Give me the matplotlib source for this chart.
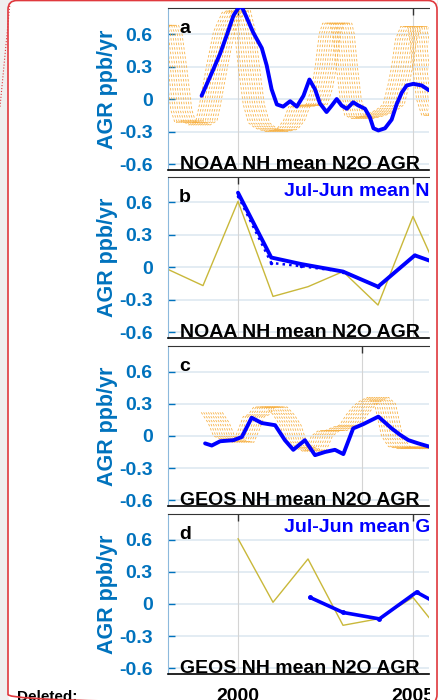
import numpy as np
import matplotlib.pyplot as plt
from matplotlib.patches import FancyBboxPatch, Rectangle

plt.rcParams['font.family'] = ['Liberation Sans', 'DejaVu Sans']
plt.rcParams['lines.solid_joinstyle'] = 'round'
plt.rcParams['lines.solid_capstyle'] = 'round'

W, H = 438, 700
TXT_BLUE = '#0072bd'
LINE_BLUE = '#0000ff'
ORANGE = '#f7ab35'
OLIVE = '#c9b83a'
RED = '#e0393e'

XMIN, XMAX = 1998.0, 2005.457
YMIN, YMAX = -0.655, 0.84
yticks = [-0.6, -0.3, 0.0, 0.3, 0.6]
ytick_labels = ['-0.6', '-0.3', '0', '0.3', '0.6']

# a: NOAA NH mean N2O growth rate (smoothed monthly)
noaa_yr = [1998.96, 1999.29, 1999.49, 1999.68, 1999.87, 2000.01, 2000.11, 2000.25,
           2000.44, 2000.68, 2000.82, 2000.96, 2001.11, 2001.29, 2001.49, 2001.68,
           2001.87, 2002.04, 2002.20, 2002.34, 2002.53, 2002.68, 2002.82, 2002.96,
           2003.11, 2003.29, 2003.44, 2003.63, 2003.77, 2003.87, 2004.01, 2004.20,
           2004.39, 2004.53, 2004.68, 2004.82, 2005.01, 2005.25, 2005.46]
noaa_agr = [0.03, 0.27, 0.42, 0.59, 0.77, 0.84, 0.85, 0.75,
            0.61, 0.47, 0.31, 0.09, -0.05, -0.07, -0.02, -0.07,
            0.03, 0.18, 0.09, -0.04, -0.12, -0.06, 0.00, -0.06,
            -0.09, -0.03, -0.06, -0.09, -0.17, -0.27, -0.29, -0.27,
            -0.19, -0.05, 0.06, 0.125, 0.14, 0.125, 0.08]

# a: model growth rate, central member of the monthly-lag ensemble
noaa_mod_yr = [1997.6, 1998.0, 1998.1, 1998.23, 1998.38, 1998.5, 1998.7, 1998.9,
               1999.1, 1999.2, 1999.4, 1999.6, 1999.85, 2000.05, 2000.2, 2000.31,
               2000.45, 2000.6, 2000.8, 2001.1, 2001.4, 2001.6, 2001.75, 2002.0,
               2002.25, 2002.4, 2002.51, 2002.62, 2002.72, 2002.95, 2003.02, 2003.11,
               2003.22, 2003.35, 2003.55, 2003.8, 2004.0, 2004.25, 2004.45, 2004.6,
               2004.69, 2004.8, 2004.95, 2005.15, 2005.22, 2005.29, 2005.4, 2005.55,
               2005.8]
noaa_mod_agr = [0.68, 0.68, 0.6, 0.3, -0.1, -0.22, -0.2, -0.24,
                -0.2, -0.05, 0.3, 0.62, 0.8, 0.82, 0.62, 0.3,
                -0.05, -0.22, -0.27, -0.3, -0.28, -0.2, -0.07, -0.06,
                -0.05, 0.1, 0.3, 0.6, 0.7, 0.7, 0.6, 0.3,
                0.0, -0.15, -0.18, -0.16, -0.14, -0.1, -0.05, 0.15,
                0.3, 0.55, 0.67, 0.67, 0.55, 0.3, 0.0, -0.15,
                -0.15]

# b: annual values
ann_yr = [1998.0, 1999.0, 2000.0, 2001.0, 2002.0, 2003.0, 2004.0, 2005.0, 2006.0]
noaa_ann_mod = [-0.02, -0.17, 0.61, -0.27, -0.18, -0.04, -0.35, 0.47, -0.25]
julj_yr = [2000.0, 2000.95, 2001.8, 2003.0, 2004.0, 2005.05, 2006.0]
noaa_julj = [0.69, 0.09, 0.03, -0.04, -0.18, 0.11, 0.0]
noaa_julj_alt = [0.66, 0.04, 0.01, -0.04, -0.18, 0.11, 0.0]

# c: GEOS NH mean N2O growth rate
geos_yr = [1999.06, 1999.25, 1999.49, 1999.87, 2000.11, 2000.39, 2000.68, 2001.06,
           2001.34, 2001.58, 2001.91, 2002.20, 2002.49, 2002.77, 2003.01, 2003.29,
           2003.58, 2004.01, 2004.39, 2004.63, 2004.87, 2005.15, 2005.46]
geos_agr = [-0.07, -0.09, -0.05, -0.04, -0.01, 0.17, 0.12, 0.10,
            -0.04, -0.13, -0.04, -0.18, -0.15, -0.13, -0.17, 0.07,
            0.11, 0.18, 0.07, 0.01, -0.04, -0.07, -0.10]
geos_mod_yr = [1999.25, 1999.45, 1999.6, 1999.8, 2000.0, 2000.15, 2000.3, 2000.45,
               2000.6, 2000.75, 2001.1, 2001.3, 2001.5, 2001.65, 2001.8, 2002.0,
               2002.2, 2002.4, 2002.6, 2002.8, 2003.0, 2003.2, 2003.4, 2003.6,
               2003.8, 2004.0, 2004.2, 2004.4, 2004.6, 2004.9, 2005.2, 2005.5,
               2005.8]
geos_mod_agr = [0.22, 0.12, 0.0, -0.03, -0.05, -0.06, 0.05, 0.18,
                0.2, 0.27, 0.27, 0.2, 0.1, -0.05, -0.1, -0.12,
                -0.15, 0.0, 0.05, 0.05, 0.08, 0.1, 0.2, 0.28,
                0.33, 0.36, 0.3, 0.0, -0.1, -0.12, -0.1, -0.12,
                -0.1]

# d: GEOS annual values
geos_ann_yr = [2000.0, 2001.0, 2002.0, 2003.0, 2004.0, 2005.0, 2006.0]
geos_ann_mod = [0.61, 0.015, 0.42, -0.20, -0.14, 0.06, -0.35]
geos_julj_yr = [2002.06, 2003.0, 2004.04, 2005.1, 2006.0]
geos_julj = [0.06, -0.08, -0.14, 0.11, -0.05]

# start-month lags of the running-mean ensemble (years)
lags = np.linspace(-0.3, 0.3, 10)


def px_axes(fig, left, top, right, bottom, **kw):
    return fig.add_axes([left / W, 1 - bottom / H, (right - left) / W, (bottom - top) / H], **kw)


def style_panel(ax, letter, caption, xgrid, show_years=False):
    ax.set_xlim(XMIN, XMAX)
    ax.set_ylim(YMIN, YMAX)
    ax.set_yticks(yticks)
    ax.set_yticklabels(ytick_labels, fontsize=14, fontweight='bold', color=TXT_BLUE)
    ax.tick_params(axis='y', direction='in', length=5, width=1, color=TXT_BLUE, pad=11)
    for y in yticks:
        ax.axhline(y, color='#e3ecf3', lw=1.4, zorder=0)
    for x in xgrid:
        ax.axvline(x, color='#d4d4d4', lw=0.8, zorder=0)
    ax.set_xticks(xgrid)
    ax.tick_params(axis='x', direction='in', top=True, bottom=False, length=5,
                   width=1, color='#333333', labelbottom=show_years)
    if show_years:
        ax.set_xticklabels([str(int(round(x))) for x in xgrid], fontsize=14,
                           fontweight='bold')
        ax.tick_params(axis='x', pad=10)
    ax.spines['right'].set_visible(False)
    ax.spines['left'].set_color('#8db9dc')
    ax.spines['top'].set_color('#333333')
    ax.spines['bottom'].set_color('black')
    ax.spines['bottom'].set_linewidth(1.2)
    ax.text(11 / 261, 1 - 25 / 161, letter, transform=ax.transAxes, fontsize=14,
            fontweight='bold', va='baseline', ha='left')
    ax.text(12 / 261, 1 / 161, caption, transform=ax.transAxes, fontsize=14,
            fontweight='bold', va='baseline', ha='left', zorder=5)
    ax.text(-0.23, 0.5, 'AGR ppb/yr', transform=ax.transAxes, rotation=90,
            fontsize=15.5, fontweight='bold', color=TXT_BLUE, ha='center', va='center')


def lag_ensemble(ax, yr, agr):
    yr = np.asarray(yr)
    for lag in lags:
        ax.plot(yr + lag, agr, color=ORANGE, lw=0.6, dashes=(3, 2.5), alpha=0.9, zorder=2)


fig = plt.figure(figsize=(W / 100, H / 100), dpi=100, facecolor='#efefef')

# comment-box background
bg = fig.add_axes([0, 0, 1, 1], zorder=-10)
bg.set_xlim(0, W)
bg.set_ylim(H, 0)
bg.axis('off')
bg.add_patch(FancyBboxPatch((8, 0), 429, 703, boxstyle='round,pad=0,rounding_size=9',
                            fc='white', ec='none'))

ax_a = px_axes(fig, 168, 8, 429, 170)
ax_b = px_axes(fig, 168, 176.5, 429, 338)
ax_c = px_axes(fig, 168, 346, 429, 506)
ax_d = px_axes(fig, 168, 514, 429, 674)

# a
lag_ensemble(ax_a, noaa_mod_yr, noaa_mod_agr)
ax_a.plot(noaa_yr, noaa_agr, color=LINE_BLUE, lw=2.8, zorder=4)
style_panel(ax_a, 'a', 'NOAA NH mean N2O AGR', [2000, 2005])

# b
ax_b.plot(ann_yr, noaa_ann_mod, color=OLIVE, lw=1.0, zorder=2)
ax_b.plot(julj_yr, noaa_julj_alt, color=LINE_BLUE, lw=1.8, ls=':', marker='.',
          ms=3, zorder=3)
ax_b.plot(julj_yr, noaa_julj, color=LINE_BLUE, lw=2.8, zorder=4)
style_panel(ax_b, 'b', 'NOAA NH mean N2O AGR', [2000, 2005])
ax_b.text(116 / 261, 1 - 19.5 / 161, 'Jul-Jun mean NOAA N2O AGR', transform=ax_b.transAxes,
          fontsize=14, fontweight='bold', color=LINE_BLUE, va='baseline', clip_on=True)

# c
lag_ensemble(ax_c, geos_mod_yr, geos_mod_agr)
ax_c.plot(geos_yr, geos_agr, color=LINE_BLUE, lw=2.8, zorder=4)
style_panel(ax_c, 'c', 'GEOS NH mean N2O AGR', [2003.53])

# d
ax_d.plot(geos_ann_yr, geos_ann_mod, color=OLIVE, lw=1.0, zorder=2)
ax_d.plot(geos_julj_yr, geos_julj, color=LINE_BLUE, lw=2.6, marker='.', ms=5, zorder=4)
style_panel(ax_d, 'd', 'GEOS NH mean N2O AGR', [2000, 2005], show_years=True)
ax_d.text(116 / 261, 1 - 18 / 160, 'Jul-Jun mean GEOS N2O AGR', transform=ax_d.transAxes,
          fontsize=14, fontweight='bold', color=LINE_BLUE, va='baseline', clip_on=True)

fig.text(17 / W, 1 - 701 / H, 'Deleted:', fontsize=11, fontweight='bold', va='baseline')

# overlay: clipped margin and comment-box border
ov = fig.add_axes([0, 0, 1, 1], zorder=20)
ov.set_xlim(0, W)
ov.set_ylim(H, 0)
ov.axis('off')
ov.patch.set_alpha(0)
ov.add_patch(Rectangle((429.5, 0), 7, H, fc='white', ec='none'))
ov.add_patch(FancyBboxPatch((8, 0.5), 429, 703, boxstyle='round,pad=0,rounding_size=9',
                            fc='none', ec=RED, lw=1.2))
ov.plot([10, 0], [3, 107], color=RED, lw=0.8, ls=':')

fig.savefig('out.png', dpi=100, facecolor=fig.get_facecolor())
